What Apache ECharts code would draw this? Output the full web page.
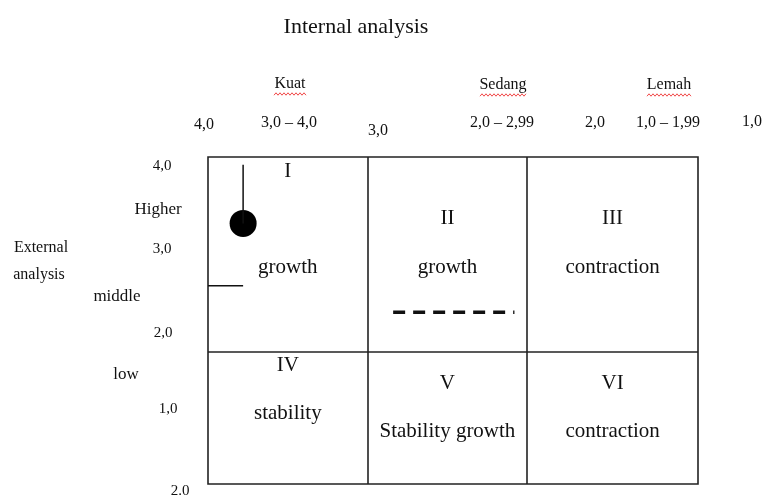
<!DOCTYPE html>
<html>
<head>
<meta charset="utf-8">
<script src="https://cdn.jsdelivr.net/npm/echarts@6/dist/echarts.min.js"></script>
<style>html,body{margin:0;padding:0;background:#fff;}#c{width:765px;height:495px;}</style>
</head>
<body>
<div id="c"></div>
<script>
// ---- data ----
const xEdges = [4.0, 3.0, 2.0, 0.93];          // internal (IFE) score cell edges
const yEdges = [4.0, 2.0, 0.65];               // external (EFE) score cell edges
const cellNumerals = ['I', 'II', 'III', 'IV', 'V', 'VI'];
const cellStrategies = ['growth', 'growth', 'contraction', 'stability', 'Stability growth', 'contraction'];
const positionPoint = [[3.78, 3.32]];
const positionDrop = [[3.78, 3.92], [3.78, 3.32]];
const positionLevel = [[4.0, 2.68], [3.78, 2.68]];
const dashedSegment = [[2.84, 2.41], [2.08, 2.41]];
const topGroupLabels = ['Kuat', 'Sedang', 'Lemah'];
const topRangeLabels = ['3,0 – 4,0', '2,0 – 2,99', '1,0 – 1,99'];
const topTickLabels = ['4,0', '3,0', '2,0', '1,0'];
const leftTickLabels = ['4,0', '3,0', '2,0', '1,0', '2.0'];
const leftLevelLabels = ['Higher', 'middle', 'low'];

// ---- layout ----
const FONT = "'Liberation Serif', 'DejaVu Serif', serif";
const numeralY = [3.85, 3.37, 3.37, 1.86, 1.68, 1.68];
const strategyY = [2.87, 2.87, 2.87, 1.37, 1.19, 1.19];
const groupLabelPos = [[290, 84], [503, 85], [669, 85]];
const rangeLabelPos = [[289, 123], [502, 123], [668, 123]];
const topTickPos = [[204, 125], [378, 131], [595, 123], [752, 122]];
const leftTickPos = [[162, 166], [162, 249], [163, 333], [168, 409], [180, 491]];
const leftLevelPos = [[158, 210], [117, 297], [126, 375]];

const chart = echarts.init(document.getElementById('c'), null, {renderer: 'canvas'});

const colCenter = c => (xEdges[c] + xEdges[c + 1]) / 2;
const cellText = [];
for (let i = 0; i < 6; i++) {
  const c = i % 3;
  cellText.push({value: [colCenter(c), numeralY[i]], name: cellNumerals[i]});
  cellText.push({value: [colCenter(c), strategyY[i]], name: cellStrategies[i]});
}

const graphics = [];
function txt(s, x, y, size) {
  graphics.push({type: 'text', x: x, y: y,
    style: {text: s, fill: '#111', font: size + 'px ' + FONT, textAlign: 'center', textVerticalAlign: 'middle'}});
}
txt('Internal analysis', 356, 27, 22);
topGroupLabels.forEach((s, i) => txt(s, groupLabelPos[i][0], groupLabelPos[i][1], 16));
topRangeLabels.forEach((s, i) => txt(s, rangeLabelPos[i][0], rangeLabelPos[i][1], 16));
topTickLabels.forEach((s, i) => txt(s, topTickPos[i][0], topTickPos[i][1], 16));
leftTickLabels.forEach((s, i) => txt(s, leftTickPos[i][0], leftTickPos[i][1], 15));
leftLevelLabels.forEach((s, i) => txt(s, leftLevelPos[i][0], leftLevelPos[i][1], 17));
txt('External', 41, 248, 16);
txt('analysis', 39, 275, 16);
// spell-check squiggles under the Indonesian words
const squiggleSpan = [[274, 306, 94], [480, 527, 95], [647, 692, 95]];
squiggleSpan.forEach(([a, b, y]) => {
  const pts = [];
  let k = 0;
  for (let x = a; x <= b; x += 2) { pts.push([x, y + (k % 2 ? -1.2 : 1.2)]); k++; }
  graphics.push({type: 'polyline', shape: {points: pts}, style: {stroke: '#e33', lineWidth: 0.9, fill: null}});
});

chart.setOption({
  animation: false,
  backgroundColor: '#fff',
  grid: {left: 208, top: 157, width: 490, height: 327, show: true, borderColor: '#222', borderWidth: 1.6, backgroundColor: 'transparent'},
  xAxis: {type: 'value', inverse: true, min: xEdges[3], max: xEdges[0],
    axisLine: {show: false}, axisTick: {show: false}, axisLabel: {show: false}, splitLine: {show: false}},
  yAxis: {type: 'value', min: yEdges[2], max: yEdges[0],
    axisLine: {show: false}, axisTick: {show: false}, axisLabel: {show: false}, splitLine: {show: false}},
  series: [
    {type: 'line', data: [], markLine: {silent: true, symbol: 'none', label: {show: false},
      lineStyle: {color: '#222', width: 1.6, type: 'solid'},
      data: [{xAxis: xEdges[1]}, {xAxis: xEdges[2]}, {yAxis: yEdges[1]}]}},
    {type: 'scatter', data: cellText, symbolSize: 0, silent: true, itemStyle: {opacity: 1},
      label: {show: true, position: 'inside', formatter: '{b}', color: '#111', opacity: 1, fontSize: 21, fontFamily: FONT}},
    {type: 'line', data: positionDrop, symbol: 'none', lineStyle: {color: '#111', width: 1.5}},
    {type: 'line', data: positionLevel, symbol: 'none', lineStyle: {color: '#111', width: 1.5}},
    {type: 'line', data: dashedSegment, symbol: 'none', lineStyle: {color: '#111', width: 3.5, type: [12, 8]}},
    {type: 'scatter', data: positionPoint, symbolSize: 27, itemStyle: {color: '#000', opacity: 1}}
  ],
  graphic: graphics
});
</script>
</body>
</html>
